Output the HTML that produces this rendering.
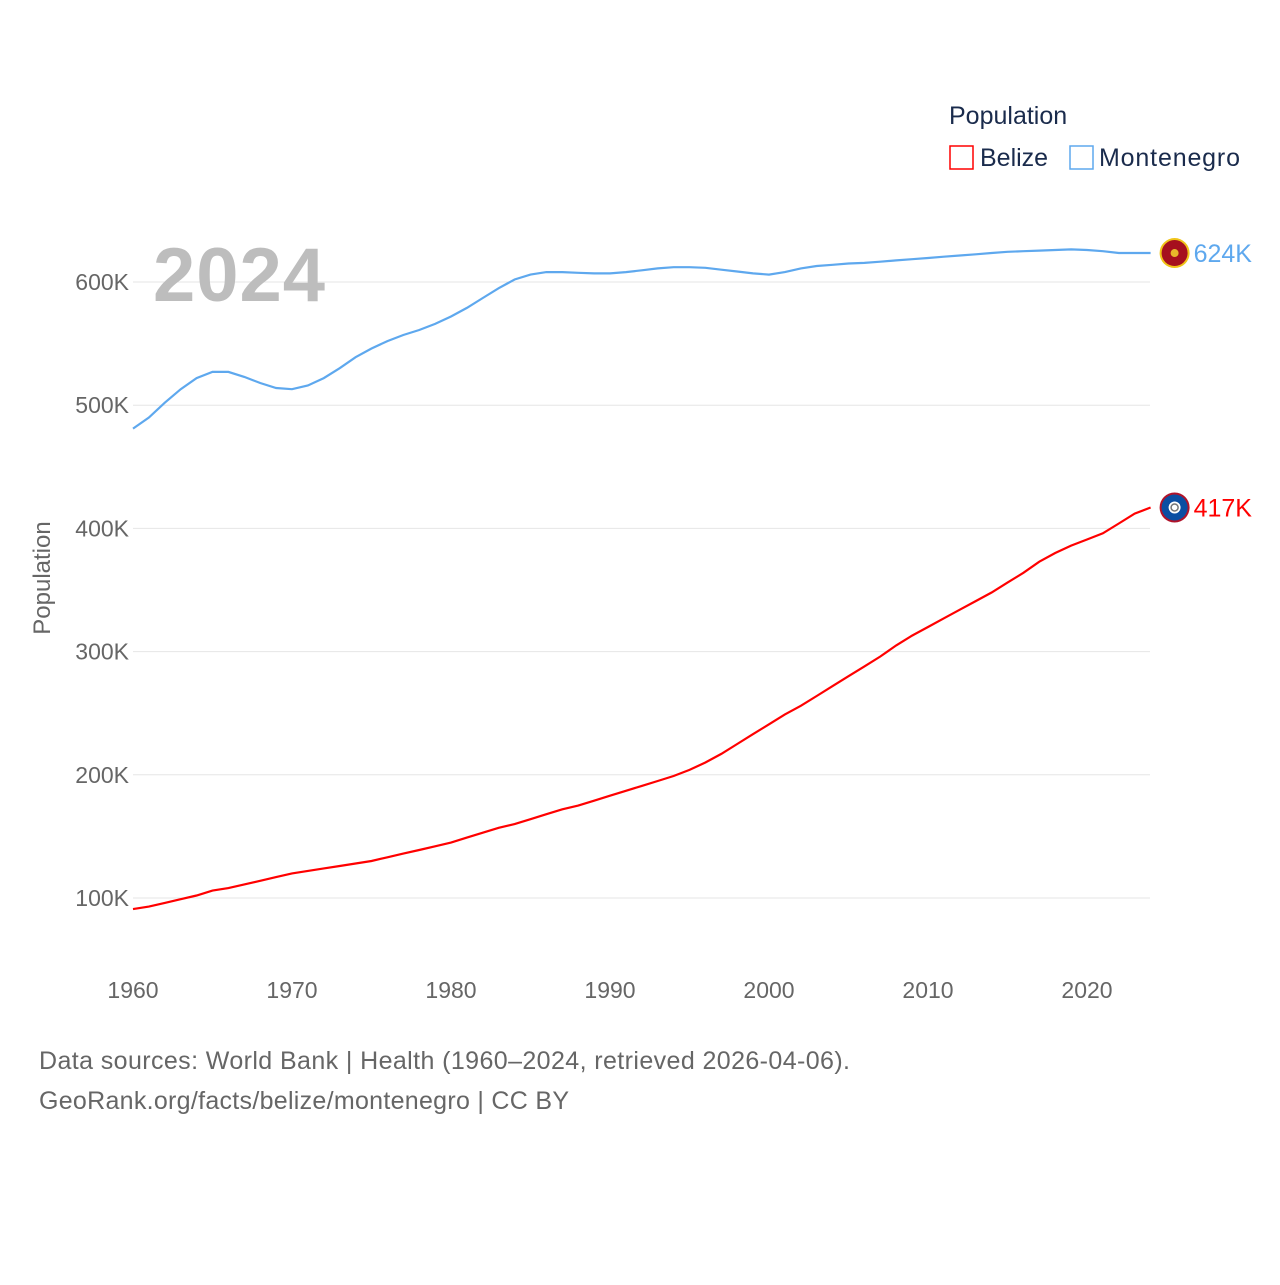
<!DOCTYPE html>
<html><head><meta charset="utf-8"><style>
body{margin:0;background:#fff;font-family:"Liberation Sans",sans-serif}
svg text{font-family:"Liberation Sans",sans-serif}
</style></head><body>
<svg id="c" width="1280" height="1280" xmlns="http://www.w3.org/2000/svg">
<g id="grid"></g>
<g id="yt"></g>
<g id="xt"></g>
<text x="153" y="301" font-size="76" font-weight="bold" fill="#bdbdbd" textLength="172">2024</text>
<text transform="translate(50,578) rotate(-90)" text-anchor="middle" font-size="24" fill="#666">Population</text>
<g id="lines"></g>
<g>
<text x="949" y="124" font-size="25" fill="#1a2b4c">Population</text>
<g><rect x="950" y="146" width="23" height="23" fill="none" stroke="#ff0000" stroke-width="1.5"/><text x="980" y="166" font-size="25" fill="#1a2b4c">Belize</text></g>
<g><rect x="1070" y="146" width="23" height="23" fill="none" stroke="#5ea8ee" stroke-width="1.5"/><text x="1099" y="166" font-size="25" fill="#1a2b4c" textLength="141">Montenegro</text></g>
</g>
<text x="39" y="1069" font-size="25" fill="#666" textLength="811">Data sources: World Bank | Health (1960–2024, retrieved 2026-04-06).</text>
<text x="39" y="1109" font-size="25" fill="#666" textLength="530">GeoRank.org/facts/belize/montenegro | CC BY</text>
</svg>
<script>
const years=[];for(let y=1960;y<=2024;y++)years.push(y);
const belize=[91,93,96,99,102,106,108,111,114,117,120,122,124,126,128,130,133,136,139,142,145,149,153,157,160,164,168,172,175,179,183,187,191,195,199,204,210,217,225,233,241,249,256,264,272,280,288,296,305,313,320,327,334,341,348,356,364,373,380,386,391,396,404,412,417];
const montenegro=[481,490,502,513,522,527,527,523,518,514,513,516,522,530,539,546,552,557,561,566,572,579,587,595,602,606,608,608,607.5,607,607,608,609.5,611,612,612,611.5,610,608.5,607,606,608,611,613,614,615,615.5,616.5,617.5,618.5,619.5,620.5,621.5,622.5,623.5,624.5,625,625.5,626,626.5,626,625,623.5,623.5,623.5];
const yTicks=[100,200,300,400,500,600];
const xTicks=[1960,1970,1980,1990,2000,2010,2020];
const X=y=>133+(y-1960)*15.9, Y=v=>1021.2-v*1.232;
const ns="http://www.w3.org/2000/svg";
function mk(t,a,p){const e=document.createElementNS(ns,t);for(const k in a)e.setAttribute(k,a[k]);p.appendChild(e);return e;}
const grid=document.getElementById('grid'),yt=document.getElementById('yt'),xt=document.getElementById('xt'),lines=document.getElementById('lines');
yTicks.forEach(v=>{
 const l=mk('line',{x1:133,x2:1150,y1:Y(v),y2:Y(v),stroke:'#e6e6e6','stroke-width':1},grid);
 
 
 const t=mk('text',{x:129,y:Y(v)+8,'text-anchor':'end','font-size':23,fill:'#666'},yt);t.textContent=v+'K';
 
 
});
xTicks.forEach(v=>{
 const t=mk('text',{x:X(v),y:998,'text-anchor':'middle','font-size':23,fill:'#666'},xt);t.textContent=v;
 
 
});
function series(data,color,name,flag){
 const d=data.map((v,i)=>(i?'L':'M')+X(years[i]).toFixed(1)+','+Y(v).toFixed(1)).join('');
 const p=mk('path',{d:d,fill:'none',stroke:color,'stroke-width':2.2},lines);
 
 
 const last=data[data.length-1],cx=X(2024)+24,cy=Y(last);
 const g=mk('g',{},lines);
 
 
 if(flag==='me'){mk('circle',{cx:cx,cy:cy,r:15,fill:'#f0c419'},g);mk('circle',{cx:cx,cy:cy,r:13,fill:'#a6101e'},g);mk('circle',{cx:cx,cy:cy,r:4,fill:'#e8b82a'},g);}
 else{mk('circle',{cx:cx,cy:cy,r:15,fill:'#b0132a'},g);mk('circle',{cx:cx,cy:cy,r:13,fill:'#0b4ea2'},g);mk('circle',{cx:cx,cy:cy,r:6,fill:'#fff'},g);mk('circle',{cx:cx,cy:cy,r:3.5,fill:'none',stroke:'#777','stroke-width':1.5},g);}
 const t=mk('text',{x:cx+19,y:cy+9,'font-size':25,fill:color},lines);t.textContent=Math.round(last)+'K';
 
 
}
series(montenegro,'#5ea8ee','montenegro','me');
series(belize,'#ff0000','belize','bz');
</script>
</body></html>
